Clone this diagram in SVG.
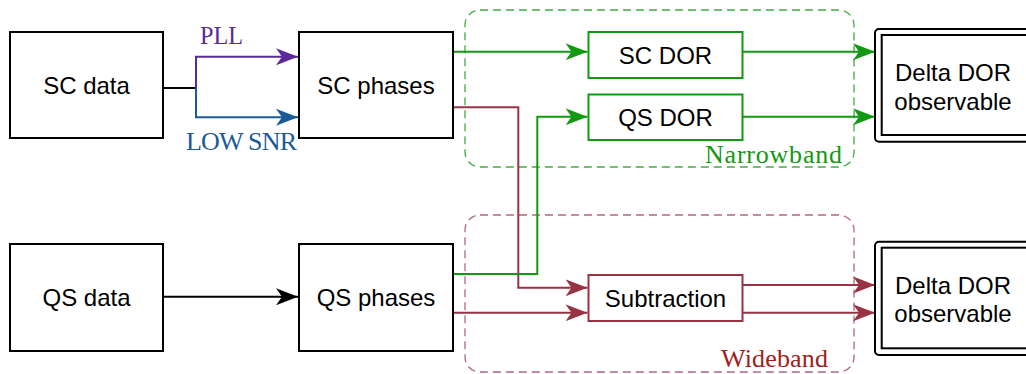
<svg xmlns="http://www.w3.org/2000/svg" width="1026" height="374" viewBox="0 0 1026 374">
<style>
.box{fill:#fff;stroke:#000;stroke-width:2}
.gbox{fill:#fff;stroke:#119911;stroke-width:2}
.rbox{fill:#fff;stroke:#993344;stroke-width:2}
.lbl{font-family:"Liberation Sans",Arial,sans-serif;font-size:24px;fill:#000;text-anchor:middle}
.ser{font-family:"Liberation Serif","Times New Roman",serif;font-size:26px}
.c{fill:none;stroke-width:2}
.k{stroke:#000}
.p{stroke:#5a2a9a}
.b{stroke:#1a5a96}
.g{stroke:#119911}
.r{stroke:#993344}
.grp{fill:none;stroke-width:1.3;stroke-dasharray:8 5}
</style>
<defs>
<marker id="ak" markerUnits="userSpaceOnUse" markerWidth="24" markerHeight="20" refX="22" refY="10" orient="auto"><path d="M0,1.5 L22,10 L0,18.5 L6,10 Z" fill="#000"/></marker>
<marker id="ap" markerUnits="userSpaceOnUse" markerWidth="24" markerHeight="20" refX="22" refY="10" orient="auto"><path d="M0,1.5 L22,10 L0,18.5 L6,10 Z" fill="#5a2a9a"/></marker>
<marker id="ab" markerUnits="userSpaceOnUse" markerWidth="24" markerHeight="20" refX="22" refY="10" orient="auto"><path d="M0,1.5 L22,10 L0,18.5 L6,10 Z" fill="#1a5a96"/></marker>
<marker id="ag" markerUnits="userSpaceOnUse" markerWidth="24" markerHeight="20" refX="22" refY="10" orient="auto"><path d="M0,1.5 L22,10 L0,18.5 L6,10 Z" fill="#119911"/></marker>
<marker id="ar" markerUnits="userSpaceOnUse" markerWidth="24" markerHeight="20" refX="22" refY="10" orient="auto"><path d="M0,1.5 L22,10 L0,18.5 L6,10 Z" fill="#993344"/></marker>
</defs>

<g id="narrowband">
<rect class="grp" x="465" y="10" width="389" height="157" rx="15" stroke="#44aa44"/>
<text class="ser" x="705" y="163" textLength="137" lengthAdjust="spacing" fill="#119911">Narrowband</text>
</g>
<g id="wideband">
<rect class="grp" x="465" y="215" width="389" height="157" rx="15" stroke="#b06a76"/>
<text class="ser" x="721" y="367" textLength="107" lengthAdjust="spacing" fill="#a02020">Wideband</text>
</g>

<g id="connectors">
<path class="c k" d="M163,88 H196"/>
<path class="c p" d="M196,88 V56.7 H298" marker-end="url(#ap)"/>
<path class="c b" d="M196,88 V117.3 H298" marker-end="url(#ab)"/>
<path class="c k" d="M163,296.7 H298" marker-end="url(#ak)"/>
<path class="c g" d="M453,51.7 H587.5" marker-end="url(#ag)"/>
<path class="c g" d="M742.5,51.7 H875" marker-end="url(#ag)"/>
<path class="c g" d="M742.5,116.7 H875" marker-end="url(#ag)"/>
<path class="c r" d="M453,107.3 H518.3 V287.7 H587.5" marker-end="url(#ar)"/>
<path class="c g" d="M453,274 H537.3 V116.7 H587.5" marker-end="url(#ag)"/>
<path class="c r" d="M453,312.7 H587.5" marker-end="url(#ar)"/>
<path class="c r" d="M742.5,285 H875" marker-end="url(#ar)"/>
<path class="c r" d="M742.5,312.7 H875" marker-end="url(#ar)"/>
<text class="ser" x="200" y="44" textLength="43" lengthAdjust="spacingAndGlyphs" fill="#5a2a9a">PLL</text>
<text class="ser" x="186" y="150" textLength="111" lengthAdjust="spacing" fill="#1a5a96">LOW SNR</text>
</g>

<g id="sc-data">
<rect class="box" x="10" y="32" width="153" height="106"/>
<text class="lbl" x="86.5" y="93.6">SC data</text>
</g>
<g id="sc-phases">
<rect class="box" x="299" y="32" width="154" height="106"/>
<text class="lbl" x="376" y="93.6">SC phases</text>
</g>
<g id="qs-data">
<rect class="box" x="10" y="244" width="153" height="107"/>
<text class="lbl" x="86.5" y="306">QS data</text>
</g>
<g id="qs-phases">
<rect class="box" x="299" y="244" width="154" height="107"/>
<text class="lbl" x="376" y="306">QS phases</text>
</g>
<g id="sc-dor">
<rect class="gbox" x="588.5" y="32" width="154" height="46"/>
<text class="lbl" x="665.5" y="63.5">SC DOR</text>
</g>
<g id="qs-dor">
<rect class="gbox" x="588.5" y="94.5" width="154" height="45.5"/>
<text class="lbl" x="665.5" y="126">QS DOR</text>
</g>
<g id="subtraction">
<rect class="rbox" x="588.5" y="275" width="154" height="46"/>
<text class="lbl" x="665.5" y="306.5">Subtraction</text>
</g>
<g id="delta-dor-1">
<rect class="box" x="875" y="29" width="160" height="112.7" rx="4"/>
<rect class="box" x="881.7" y="35" width="146" height="100"/>
<text class="lbl" x="953" y="81">Delta DOR</text>
<text class="lbl" x="953" y="109.5">observable</text>
</g>
<g id="delta-dor-2">
<rect class="box" x="875" y="241.7" width="160" height="113.3" rx="4"/>
<rect class="box" x="881.7" y="247.7" width="146" height="100.6"/>
<text class="lbl" x="953" y="293.5">Delta DOR</text>
<text class="lbl" x="953" y="322">observable</text>
</g>
</svg>
